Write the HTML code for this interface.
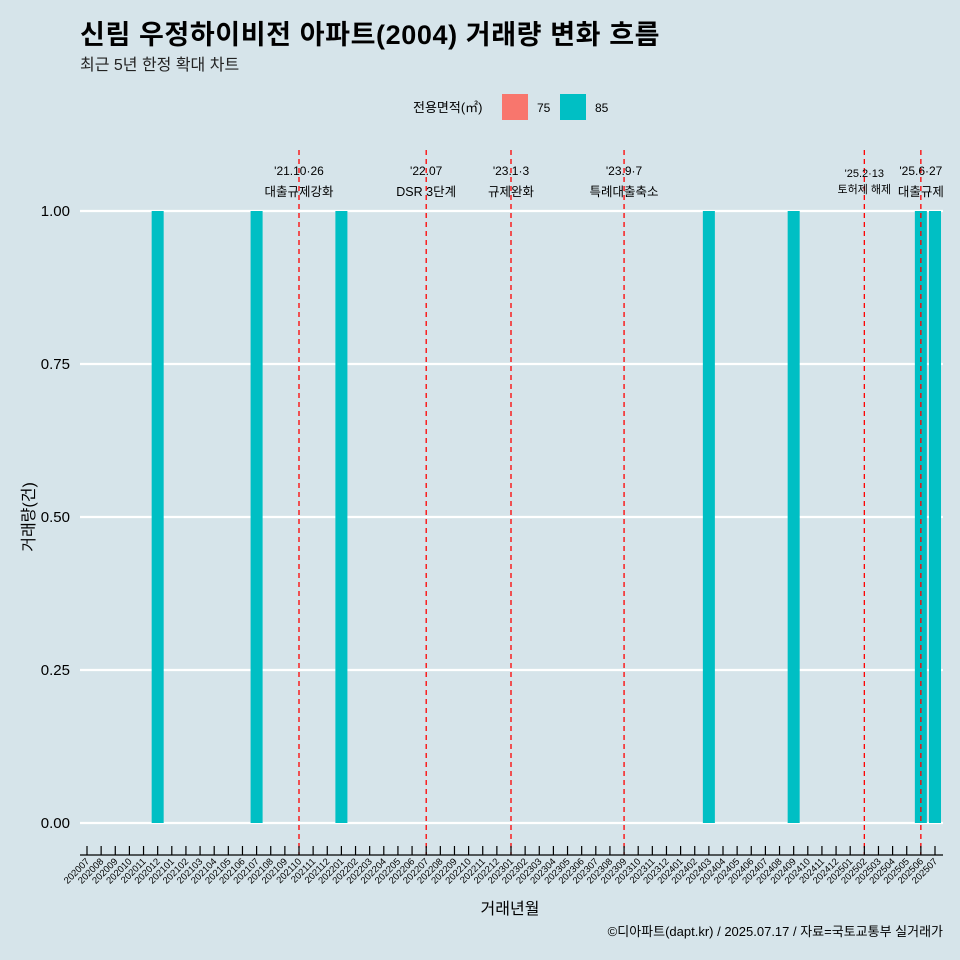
<!DOCTYPE html>
<html><head><meta charset="utf-8"><style>
body{margin:0;background:#d6e4ea;}
svg{display:block;font-family:"Liberation Sans","Noto Sans CJK KR",sans-serif;}
</style></head><body>
<svg id="c" width="960" height="960">
<rect width="960" height="960" fill="#d6e4ea"/>
<text x="80" y="44" font-size="27" font-weight="bold" letter-spacing="0.6" fill="#000">신림 우정하이비전 아파트(2004) 거래량 변화 흐름</text>
<text x="80" y="70" font-size="16" fill="#222">최근 5년 한정 확대 차트</text>
<g>
<text x="413" y="112" font-size="13">전용면적(㎡)</text>
<rect x="502" y="94" width="26" height="26" fill="#f8766d"/>
<text x="537" y="112" font-size="12">75</text>
<rect x="560" y="94" width="26" height="26" fill="#00bfc4"/>
<text x="595" y="112" font-size="12">85</text>
</g>
<g id="grid"></g><g id="bars"></g><g id="events"></g><g id="xaxis"></g><g id="yaxis"></g>
<text x="510" y="914" font-size="16" text-anchor="middle">거래년월</text>
<text transform="translate(34,517) rotate(-90)" font-size="16" text-anchor="middle">거래량(건)</text>
<text x="943" y="936" font-size="13" text-anchor="end">©디아파트(dapt.kr) / 2025.07.17 / 자료=국토교통부 실거래가</text>
</svg>
<script>
const barMonths=["202012","202107","202201","202403","202409","202506","202507"];
const barValues=[1,1,1,1,1,1,1];
const yTicks=[0,0.25,0.5,0.75,1];
const yTickLabels=["0.00","0.25","0.50","0.75","1.00"];
const eventMonths=["202110","202207","202301","202309","202502","202506"];
const eventDates=["'21.10·26","'22.07","'23.1·3","'23.9·7","'25.2·13","'25.6·27"];
const eventLabels=["대출규제강화","DSR 3단계","규제완화","특례대출축소","토허제 해제","대출규제"];
const months=[];for(let y=2020;y<=2025;y++)for(let m=1;m<=12;m++){const k=y*100+m;if(k>=202007&&k<=202507)months.push(String(k));}
const NS="http://www.w3.org/2000/svg";
const x0=87,step=(935-87)/(months.length-1);
const xs=mo=>x0+months.indexOf(mo)*step;
const ys=v=>823-v*612;
function mk(p,t,a){const e=document.createElementNS(NS,t);for(const k in a)e.setAttribute(k,a[k]);document.getElementById(p).appendChild(e);return e;}
yTicks.forEach((v,i)=>{
 const l=mk('grid','line',{x1:80,x2:943,y1:ys(v),y2:ys(v),stroke:'#fff','stroke-width':2.2});
 
 
 const t=mk('yaxis','text',{x:70,y:ys(v)+5,'font-size':15,'text-anchor':'end'});t.textContent=yTickLabels[i];
 
 
});
barMonths.forEach((mo,i)=>{
 const w=step*0.85,y=ys(barValues[i]);
 const r=mk('bars','rect',{x:xs(mo)-w/2,y:y,width:w,height:ys(0)-y,fill:'#00bfc4'});
 
 
});
eventMonths.forEach((mo,i)=>{
 const x=xs(mo);
 const l=mk('events','line',{x1:x,x2:x,y1:150,y2:855,stroke:'#ff0000','stroke-width':1.3,'stroke-dasharray':'5,4'});
 
 
 const small=i==4;
 const d=mk('events','text',{x:x,y:small?177:175,'font-size':small?11:12,'text-anchor':'middle'});d.textContent=eventDates[i];
 
 
 const t=mk('events','text',{x:x,y:small?193:196,'font-size':small?11:12.5,'text-anchor':'middle'});t.textContent=eventLabels[i];
 
 
});
const ax=mk('xaxis','line',{x1:80,x2:943,y1:855,y2:855,stroke:'#000','stroke-width':1.2});


months.forEach(mo=>{
 const x=xs(mo);
 const tk=mk('xaxis','line',{x1:x,x2:x,y1:846,y2:855,stroke:'#000','stroke-width':1.2});
 
 
 const t=mk('xaxis','text',{x:x+3,y:862,'font-size':9.5,'text-anchor':'end',transform:`rotate(-45 ${x+3} 862)`});t.textContent=mo;
 
 
});
</script>
</body></html>
